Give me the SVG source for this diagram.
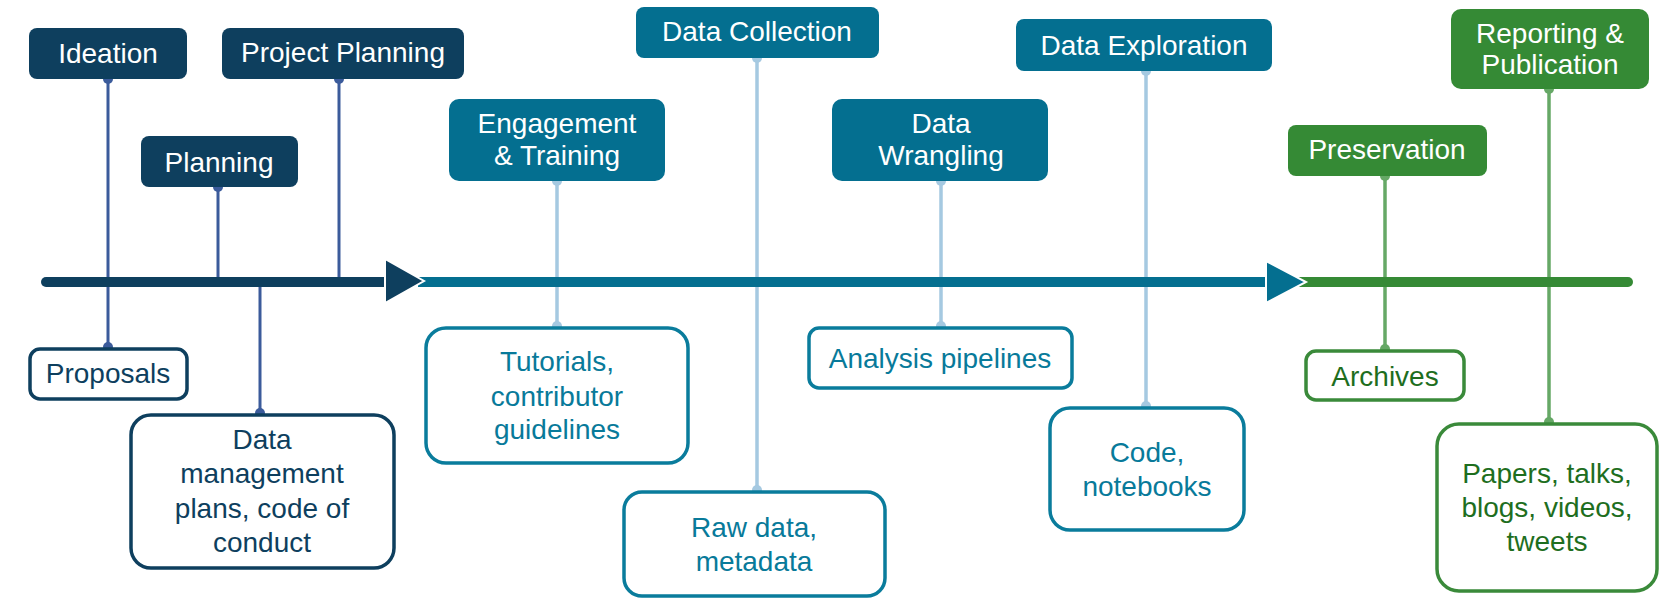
<svg xmlns="http://www.w3.org/2000/svg" width="1680" height="614" viewBox="0 0 1680 614">
<style>
text{font-family:"Liberation Sans",Arial,sans-serif;font-size:28px;text-anchor:middle}
.t{fill:#ffffff}
.fd{fill:#0e3f5e}.ft{fill:#046f90}.fg{fill:#358a35}
.od{fill:#ffffff;stroke:#0e3f5e;stroke-width:3.5}
.ot{fill:#ffffff;stroke:#0a7c9c;stroke-width:3.5}
.og{fill:#ffffff;stroke:#3a8a3a;stroke-width:3.5}
.xd{fill:#0e3f5e}.xt{fill:#087a9a}.xg{fill:#1e6e1e}
.cd{stroke:#3b5b9b;stroke-width:3;fill:none}
.ct{stroke:#a5c9e1;stroke-width:3.5;fill:none}
.cg{stroke:#66a866;stroke-width:3.5;fill:none}
.dd{fill:#3b5b9b}.dt{fill:#a5c9e1}.dg{fill:#66a866}
</style>
<rect width="1680" height="614" fill="#ffffff"/>
<g id="connectors">
<line class="cd" x1="108" y1="79" x2="108" y2="347"/>
<line class="cd" x1="218" y1="187" x2="218" y2="282"/>
<line class="cd" x1="339" y1="79" x2="339" y2="282"/>
<line class="cd" x1="260" y1="282" x2="260" y2="413"/>
<line class="ct" x1="557" y1="181" x2="557" y2="326"/>
<line class="ct" x1="757" y1="58" x2="757" y2="490"/>
<line class="ct" x1="941" y1="181" x2="941" y2="326"/>
<line class="ct" x1="1146" y1="71" x2="1146" y2="406"/>
<line class="cg" x1="1385" y1="176" x2="1385" y2="349"/>
<line class="cg" x1="1549" y1="89" x2="1549" y2="422"/>
<circle class="dd" cx="108" cy="79" r="5"/><circle class="dd" cx="108" cy="347" r="5"/>
<circle class="dd" cx="218" cy="187" r="5"/><circle class="dd" cx="339" cy="79" r="5"/>
<circle class="dd" cx="260" cy="413" r="5"/>
<circle class="dt" cx="557" cy="181" r="5"/><circle class="dt" cx="557" cy="326" r="5"/>
<circle class="dt" cx="757" cy="58" r="5"/><circle class="dt" cx="757" cy="490" r="5"/>
<circle class="dt" cx="941" cy="181" r="5"/><circle class="dt" cx="941" cy="326" r="5"/>
<circle class="dt" cx="1146" cy="71" r="5"/><circle class="dt" cx="1146" cy="406" r="5"/>
<circle class="dg" cx="1385" cy="176" r="5"/><circle class="dg" cx="1385" cy="349" r="5"/>
<circle class="dg" cx="1549" cy="89" r="5"/><circle class="dg" cx="1549" cy="422" r="5"/>
</g>
<g id="axis">
<line x1="1300" y1="282" x2="1628" y2="282" stroke="#358a35" stroke-width="10" stroke-linecap="round"/>
<line x1="418" y1="282" x2="1275" y2="282" stroke="#046f90" stroke-width="10"/>
<polygon points="1266,261 1306,282 1266,303" fill="#046f90" stroke="#ffffff" stroke-width="2" stroke-linejoin="miter"/>
<line x1="46" y1="282" x2="392" y2="282" stroke="#0e3f5e" stroke-width="10" stroke-linecap="round"/>
<polygon points="385,259 424,281 385,303" fill="#0e3f5e" stroke="#ffffff" stroke-width="2" stroke-linejoin="miter"/>
</g>
<g id="ideation"><rect class="fd" x="29" y="28" width="158" height="51" rx="8"/><text class="t" x="108" y="63">Ideation</text></g>
<g id="project-planning"><rect class="fd" x="222" y="28" width="242" height="51" rx="8"/><text class="t" x="343" y="62">Project Planning</text></g>
<g id="planning"><rect class="fd" x="141" y="136" width="157" height="51" rx="8"/><text class="t" x="219" y="172">Planning</text></g>
<g id="engagement"><rect class="ft" x="449" y="99" width="216" height="82" rx="10"/><text class="t" x="557" y="133">Engagement</text><text class="t" x="557" y="165">&amp; Training</text></g>
<g id="data-collection"><rect class="ft" x="636" y="7" width="243" height="51" rx="8"/><text class="t" x="757" y="41">Data Collection</text></g>
<g id="data-wrangling"><rect class="ft" x="832" y="99" width="216" height="82" rx="10"/><text class="t" x="941" y="133">Data</text><text class="t" x="941" y="165">Wrangling</text></g>
<g id="data-exploration"><rect class="ft" x="1016" y="19" width="256" height="52" rx="8"/><text class="t" x="1144" y="55">Data Exploration</text></g>
<g id="preservation"><rect class="fg" x="1288" y="125" width="199" height="51" rx="8"/><text class="t" x="1387" y="159">Preservation</text></g>
<g id="reporting"><rect class="fg" x="1451" y="9" width="198" height="80" rx="10"/><text class="t" x="1550" y="43">Reporting &amp;</text><text class="t" x="1550" y="74">Publication</text></g>
<g id="proposals"><rect class="od" x="30" y="349" width="157" height="50" rx="10"/><text class="xd" x="108" y="383">Proposals</text></g>
<g id="dmp"><rect class="od" x="131" y="415" width="263" height="153" rx="20"/><text class="xd" x="262" y="449">Data</text><text class="xd" x="262" y="483">management</text><text class="xd" x="262" y="518">plans, code of</text><text class="xd" x="262" y="552">conduct</text></g>
<g id="tutorials"><rect class="ot" x="426" y="328" width="262" height="135" rx="20"/><text class="xt" x="557" y="371">Tutorials,</text><text class="xt" x="557" y="406">contributor</text><text class="xt" x="557" y="439">guidelines</text></g>
<g id="raw-data"><rect class="ot" x="624" y="492" width="261" height="104" rx="18"/><text class="xt" x="754" y="537">Raw data,</text><text class="xt" x="754" y="571">metadata</text></g>
<g id="analysis"><rect class="ot" x="809" y="328" width="263" height="60" rx="10"/><text class="xt" x="940" y="368">Analysis pipelines</text></g>
<g id="code"><rect class="ot" x="1050" y="408" width="194" height="122" rx="20"/><text class="xt" x="1147" y="462">Code,</text><text class="xt" x="1147" y="496">notebooks</text></g>
<g id="archives"><rect class="og" x="1306" y="351" width="158" height="49" rx="10"/><text class="xg" x="1385" y="386">Archives</text></g>
<g id="papers"><rect class="og" x="1437" y="424" width="220" height="167" rx="22"/><text class="xg" x="1547" y="483">Papers, talks,</text><text class="xg" x="1547" y="517">blogs, videos,</text><text class="xg" x="1547" y="551">tweets</text></g>
</svg>
